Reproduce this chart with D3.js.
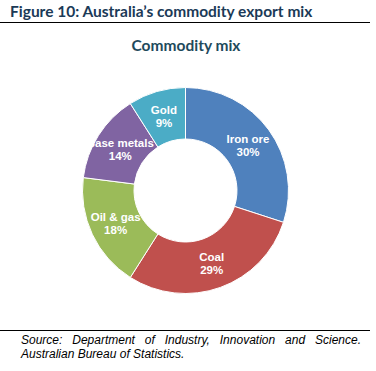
<!DOCTYPE html>
<html>
<head>
<meta charset="utf-8">
<script src="https://cdn.jsdelivr.net/npm/d3@7"></script>
<style>
  body { margin: 0; background: #fff; }
  svg { display: block; }
</style>
</head>
<body>
<div id="chart"></div>
<script>
// données
const categories = ["Iron ore", "Coal", "Oil & gas", "Base metals", "Gold"];
const values = [30, 29, 18, 14, 9];
const colors = ["#4F81BD", "#C0504D", "#9BBB59", "#8064A2", "#4BACC6"];
const figTitle = "Figure 10: Australia\u2019s commodity export mix";
const chartTitle = "Commodity mix";
const source = ["Source: Department of Industry, Innovation and Science.", "Australian Bureau of Statistics."];

const width = 376, height = 371;
const svg = d3.select("#chart").append("svg")
  .attr("width", width)
  .attr("height", height);

// titre de la figure et filets
svg.append("text")
  .attr("x", 10).attr("y", 17)
  .attr("font-family", "Lato, 'Open Sans', sans-serif")
  .attr("font-weight", "bold")
  .attr("font-size", 15.5)
  .attr("fill", "#1B3A57")
  .text(figTitle);
svg.append("line")
  .attr("x1", 0).attr("x2", 370).attr("y1", 22.5).attr("y2", 22.5)
  .attr("stroke", "#000").attr("stroke-width", 1);

svg.append("text")
  .attr("x", 186).attr("y", 51)
  .attr("text-anchor", "middle")
  .attr("font-family", "Lato, 'Open Sans', sans-serif")
  .attr("font-weight", "bold")
  .attr("font-size", 15.5)
  .attr("fill", "#1E4A5C")
  .text(chartTitle);

// anneau
const cx = 185.5, cy = 190.5, rOut = 103, rIn = 51.5;
const pie = d3.pie().sort(null).value(d => d.value);
const arc = d3.arc().innerRadius(rIn).outerRadius(rOut);
const data = categories.map((c, i) => ({name: c, value: values[i], color: colors[i]}));
const g = svg.append("g").attr("transform", `translate(${cx},${cy})`);
const arcs = pie(data);
g.selectAll("path")
  .data(arcs)
  .join("path")
  .attr("d", arc)
  .attr("fill", d => d.data.color)
  .attr("stroke", "#fff")
  .attr("stroke-width", 1);

const lab = g.selectAll("text.lab")
  .data(arcs)
  .join("text")
  .attr("class", "lab")
  .attr("transform", d => `translate(${arc.centroid(d)})`)
  .attr("text-anchor", "middle")
  .attr("font-family", "Arial, 'Liberation Sans', sans-serif")
  .attr("font-weight", "bold")
  .attr("font-size", 11.5)
  .attr("fill", "#fff");
lab.append("tspan").attr("x", 0).attr("y", -2).text(d => d.data.name);
lab.append("tspan").attr("x", 0).attr("y", 11).text(d => d.data.value + "%");

// source, première ligne justifiée
svg.append("line")
  .attr("x1", 0).attr("x2", 370).attr("y1", 330.5).attr("y2", 330.5)
  .attr("stroke", "#000").attr("stroke-width", 1);
source.forEach((s, i) => {
  const t = svg.append("text")
    .attr("x", 21).attr("y", 343.5 + i * 14.5)
    .attr("font-family", "Arial, 'Liberation Sans', sans-serif")
    .attr("font-style", "italic")
    .attr("font-size", 12)
    .attr("fill", "#000")
    .text(s);
  if (i === 0) {
    const len = t.node().getComputedTextLength();
    const spaces = s.split(" ").length - 1;
    t.attr("word-spacing", (340 - len) / spaces);
  }
});
</script>
</body>
</html>
